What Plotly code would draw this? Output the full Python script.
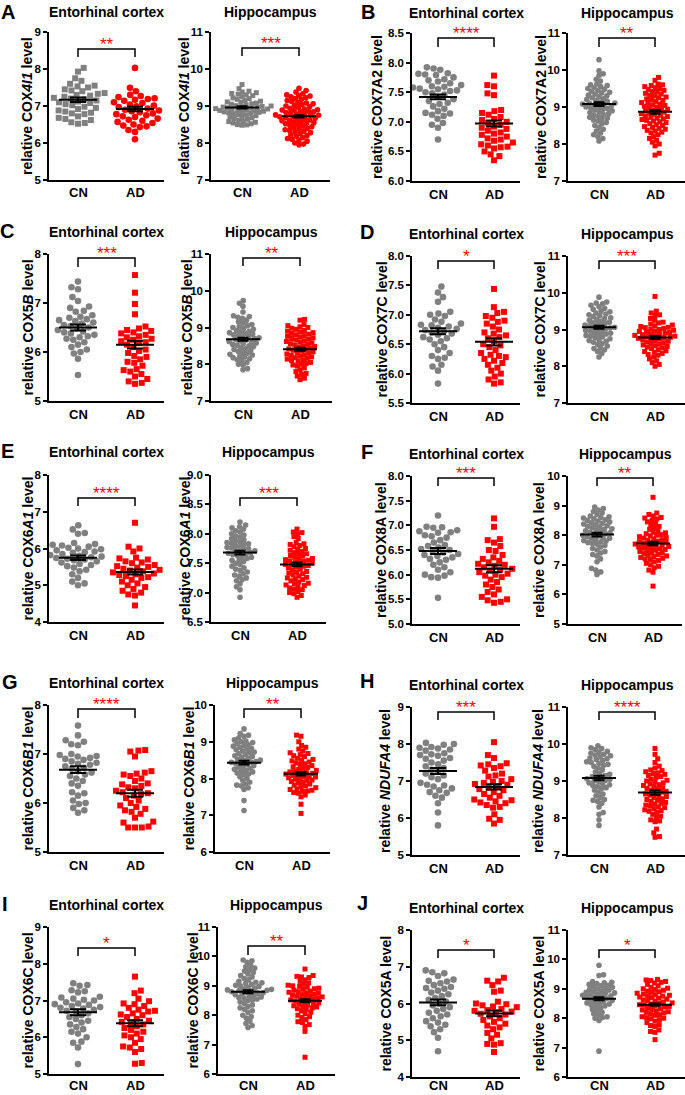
import plotly.graph_objects as go

W, H = 685, 1095
FONT = "Liberation Sans, Arial, sans-serif"
GREY = "#808080"
RED = "#ff0000"

# ---------------- data ----------------
panel_letters = ["A", "B", "C", "D", "E", "F", "G", "H", "I", "J"]
gene_labels = ["COX<i>4I1</i>", "COX7A2", "COX5<i>B</i>", "COX7C", "COX6<i>A1</i>",
               "COX8A", "COX6<i>B1</i>", "<i>NDUFA4</i>", "COX6C", "COX5A"]
region_titles = ["Entorhinal cortex", "Hippocampus"]
group_labels = ["CN", "AD"]
stars_ent = ["**", "****", "***", "*", "****", "***", "****", "***", "*", "*"]
stars_hip = ["***", "**", "**", "***", "***", "**", "**", "****", "**", "*"]
cn_is_square = [True, False, False, False, False, False, False, False, False, False]

mean_ent_cn = [7.17, 7.42, 6.50, 6.72, 5.75, 6.48, 6.68, 7.27, 6.68, 6.03]
mean_ent_ad = [6.92, 6.97, 6.15, 6.54, 5.36, 6.12, 6.20, 6.84, 6.38, 5.73]
sem_ent_cn = [0.06, 0.04, 0.06, 0.05, 0.06, 0.06, 0.07, 0.08, 0.08, 0.08]
sem_ent_ad = [0.06, 0.05, 0.08, 0.06, 0.07, 0.07, 0.07, 0.07, 0.08, 0.08]
mean_hip_cn = [8.96, 9.08, 8.68, 9.06, 7.68, 8.02, 8.43, 9.08, 8.80, 8.66]
mean_hip_ad = [8.72, 8.87, 8.41, 8.78, 7.48, 7.72, 8.13, 8.69, 8.49, 8.46]
sem_hip_cn = [0.03, 0.05, 0.04, 0.04, 0.03, 0.06, 0.05, 0.06, 0.05, 0.05]
sem_hip_ad = [0.03, 0.05, 0.04, 0.04, 0.03, 0.06, 0.05, 0.06, 0.05, 0.04]

A_ent_cn = [8.03, 7.93, 7.75, 7.68, 7.6, 7.55, 7.53, 7.5, 7.45, 7.42, 7.4, 7.35, 7.33, 7.3, 7.28, 7.25, 7.22, 7.2, 7.18, 7.15,
            7.12, 7.1, 7.08, 7.05, 7.02, 6.98, 6.95, 6.92, 6.88, 6.85, 6.82, 6.8, 6.78, 6.72, 6.68, 6.65, 6.62, 6.56, 6.54, 6.52]
A_ent_ad = [8.03, 7.49, 7.40, 7.30, 7.27, 7.24, 7.21, 7.19, 7.17, 7.14, 7.10, 7.08, 7.04, 7.01, 6.99, 6.97, 6.93, 6.90, 6.88,
            6.86, 6.83, 6.80, 6.78, 6.75, 6.72, 6.70, 6.66, 6.63, 6.60, 6.57, 6.54, 6.50, 6.47, 6.45, 6.43, 6.35, 6.30, 6.10]
A_hip_cn = [9.58, 9.47, 9.40, 9.38, 9.36, 9.34, 9.32, 9.30, 9.28, 9.25, 9.22, 9.20, 9.18, 9.15, 9.13, 9.11, 9.10, 9.08, 9.06,
            9.05, 9.03, 9.01, 9.00, 8.99, 8.98, 8.97, 8.96, 8.95, 8.94, 8.93, 8.92, 8.91, 8.90, 8.89, 8.88, 8.87, 8.86, 8.85,
            8.84, 8.83, 8.82, 8.80, 8.79, 8.77, 8.76, 8.74, 8.72, 8.70, 8.68, 8.66, 8.64, 8.62, 8.60, 8.58, 8.56, 8.54, 8.52,
            8.50, 8.48, 8.49]
A_hip_ad = [9.48, 9.42, 9.38, 9.33, 9.30, 9.28, 9.27, 9.25, 9.22, 9.20, 9.18, 9.15, 9.12, 9.10, 9.08, 9.06, 9.04, 9.02, 9.00,
            8.98, 8.96, 8.94, 8.92, 8.90, 8.89, 8.88, 8.86, 8.85, 8.84, 8.82, 8.80, 8.79, 8.78, 8.76, 8.75, 8.74, 8.72, 8.71,
            8.70, 8.68, 8.67, 8.66, 8.64, 8.62, 8.61, 8.60, 8.58, 8.56, 8.55, 8.53, 8.52, 8.50, 8.48, 8.46, 8.44, 8.42, 8.40,
            8.38, 8.36, 8.34, 8.32, 8.30, 8.28, 8.25, 8.22, 8.20, 8.18, 8.15, 8.12, 8.10, 8.08, 8.05, 8.00, 7.97, 7.95]

B_ent_cn = [7.92, 7.90, 7.88, 7.82, 7.81, 7.80, 7.79, 7.75, 7.72, 7.70, 7.68, 7.65, 7.62, 7.60, 7.59, 7.58, 7.56, 7.55, 7.53,
            7.52, 7.50, 7.48, 7.46, 7.42, 7.38, 7.35, 7.32, 7.30, 7.26, 7.22, 7.18, 7.15, 7.14, 7.12, 7.10, 7.05, 6.98, 6.95,
            6.90, 6.70]
B_ent_ad = [7.78, 7.62, 7.60, 7.48, 7.45, 7.20, 7.18, 7.15, 7.12, 7.08, 7.05, 7.03, 7.00, 6.98, 6.95, 6.92, 6.90, 6.88, 6.85,
            6.82, 6.80, 6.78, 6.75, 6.72, 6.70, 6.68, 6.65, 6.62, 6.60, 6.58, 6.57, 6.55, 6.50, 6.45, 6.42, 6.35]
B_hip_cn = [10.28, 9.98, 9.90, 9.85, 9.75, 9.70, 9.62, 9.60, 9.58, 9.55, 9.52, 9.50, 9.48, 9.45, 9.42, 9.40, 9.38, 9.35, 9.32,
            9.30, 9.28, 9.25, 9.22, 9.20, 9.18, 9.15, 9.13, 9.11, 9.10, 9.08, 9.06, 9.05, 9.03, 9.01, 9.00, 8.98, 8.96, 8.94,
            8.92, 8.90, 8.88, 8.85, 8.82, 8.80, 8.78, 8.75, 8.72, 8.70, 8.68, 8.65, 8.62, 8.58, 8.55, 8.50, 8.45, 8.40, 8.35,
            8.30, 8.25, 8.20, 8.15, 8.08]
B_hip_ad = [9.80, 9.72, 9.62, 9.60, 9.58, 9.55, 9.52, 9.50, 9.47, 9.45, 9.42, 9.40, 9.37, 9.35, 9.32, 9.30, 9.27, 9.25, 9.22,
            9.20, 9.18, 9.15, 9.12, 9.10, 9.08, 9.06, 9.04, 9.02, 9.00, 8.98, 8.96, 8.94, 8.92, 8.90, 8.88, 8.86, 8.84, 8.82,
            8.80, 8.78, 8.76, 8.74, 8.72, 8.70, 8.68, 8.66, 8.64, 8.62, 8.60, 8.58, 8.55, 8.52, 8.50, 8.47, 8.45, 8.42, 8.40,
            8.37, 8.35, 8.32, 8.30, 8.25, 8.20, 8.15, 8.10, 8.05, 8.00, 7.95, 7.75, 7.70]

C_ent_cn = [7.44, 7.32, 7.28, 7.12, 7.04, 6.93, 6.90, 6.84, 6.82, 6.75, 6.72, 6.70, 6.67, 6.65, 6.63, 6.60, 6.58, 6.55, 6.53,
            6.50, 6.48, 6.45, 6.42, 6.40, 6.38, 6.35, 6.32, 6.30, 6.27, 6.25, 6.20, 6.15, 6.10, 6.05, 6.00, 5.97, 5.86, 5.53]
C_ent_ad = [7.57, 7.21, 6.98, 6.77, 6.52, 6.48, 6.45, 6.43, 6.40, 6.38, 6.35, 6.32, 6.30, 6.27, 6.25, 6.22, 6.20, 6.18, 6.15,
            6.10, 6.05, 6.02, 5.98, 5.92, 5.90, 5.85, 5.80, 5.78, 5.72, 5.65, 5.63, 5.60, 5.55, 5.50, 5.45, 5.40, 5.37, 5.35]
C_hip_cn = [9.73, 9.66, 9.58, 9.42, 9.32, 9.30, 9.28, 9.25, 9.20, 9.15, 9.12, 9.08, 9.05, 9.02, 9.00, 8.98, 8.95, 8.92, 8.90,
            8.88, 8.86, 8.84, 8.82, 8.80, 8.78, 8.76, 8.74, 8.72, 8.70, 8.68, 8.66, 8.64, 8.62, 8.60, 8.58, 8.56, 8.54, 8.52,
            8.50, 8.48, 8.45, 8.42, 8.40, 8.38, 8.35, 8.32, 8.30, 8.27, 8.25, 8.22, 8.20, 8.18, 8.15, 8.12, 8.10, 8.05, 8.00,
            7.98, 7.88, 7.85]
C_hip_ad = [9.22, 9.20, 9.08, 9.05, 9.02, 9.00, 8.98, 8.95, 8.92, 8.90, 8.88, 8.86, 8.84, 8.82, 8.80, 8.78, 8.76, 8.74, 8.72,
            8.70, 8.68, 8.66, 8.64, 8.62, 8.60, 8.58, 8.56, 8.54, 8.52, 8.50, 8.48, 8.46, 8.44, 8.42, 8.40, 8.38, 8.36, 8.34,
            8.32, 8.30, 8.28, 8.26, 8.24, 8.22, 8.20, 8.18, 8.16, 8.14, 8.12, 8.10, 8.08, 8.05, 8.02, 8.00, 7.98, 7.95, 7.90,
            7.85, 7.80, 7.75, 7.72, 7.68, 7.62, 7.58]

D_ent_cn = [7.48, 7.38, 7.30, 7.22, 7.05, 7.02, 7.00, 6.98, 6.92, 6.88, 6.85, 6.83, 6.82, 6.80, 6.78, 6.76, 6.74, 6.72, 6.70,
            6.68, 6.66, 6.62, 6.60, 6.58, 6.55, 6.50, 6.45, 6.40, 6.35, 6.30, 6.27, 6.25, 6.15, 6.12, 6.05, 5.83]
D_ent_ad = [7.44, 7.13, 7.05, 7.03, 6.98, 6.95, 6.90, 6.88, 6.85, 6.80, 6.75, 6.70, 6.68, 6.65, 6.62, 6.60, 6.55, 6.50, 6.48,
            6.45, 6.40, 6.35, 6.32, 6.30, 6.28, 6.25, 6.22, 6.18, 6.15, 6.10, 6.05, 6.00, 5.95, 5.90, 5.85, 5.83]
D_hip_cn = [9.88, 9.75, 9.72, 9.70, 9.66, 9.62, 9.58, 9.55, 9.50, 9.48, 9.45, 9.42, 9.40, 9.38, 9.35, 9.32, 9.30, 9.28, 9.25,
            9.22, 9.20, 9.18, 9.16, 9.14, 9.12, 9.10, 9.08, 9.06, 9.05, 9.04, 9.02, 9.00, 8.98, 8.96, 8.94, 8.92, 8.90, 8.88,
            8.86, 8.84, 8.82, 8.80, 8.78, 8.75, 8.72, 8.70, 8.68, 8.65, 8.62, 8.60, 8.55, 8.50, 8.48, 8.45, 8.40, 8.35, 8.25]
D_hip_ad = [9.90, 9.50, 9.45, 9.40, 9.38, 9.30, 9.25, 9.20, 9.18, 9.15, 9.12, 9.10, 9.08, 9.06, 9.05, 9.03, 9.01, 9.00, 8.98,
            8.96, 8.95, 8.93, 8.92, 8.90, 8.88, 8.87, 8.86, 8.84, 8.83, 8.82, 8.80, 8.79, 8.78, 8.76, 8.75, 8.74, 8.72, 8.70,
            8.68, 8.66, 8.64, 8.62, 8.60, 8.58, 8.56, 8.54, 8.52, 8.50, 8.48, 8.45, 8.42, 8.40, 8.38, 8.35, 8.32, 8.30, 8.25,
            8.20, 8.15, 8.10, 8.05, 8.00]

E_ent_cn = [6.63, 6.52, 6.42, 6.40, 6.15, 6.12, 6.10, 6.08, 6.05, 6.02, 6.00, 5.98, 5.95, 5.92, 5.90, 5.88, 5.85, 5.82, 5.80,
            5.78, 5.76, 5.74, 5.72, 5.70, 5.68, 5.65, 5.62, 5.58, 5.55, 5.52, 5.48, 5.42, 5.38, 5.30, 5.20, 5.10, 5.05, 5.00]
E_ent_ad = [6.70, 6.05, 6.00, 5.92, 5.75, 5.73, 5.70, 5.65, 5.62, 5.60, 5.55, 5.52, 5.50, 5.48, 5.45, 5.42, 5.40, 5.38, 5.35,
            5.32, 5.30, 5.28, 5.25, 5.22, 5.20, 5.15, 5.10, 5.05, 5.00, 4.95, 4.90, 4.85, 4.80, 4.75, 4.72, 4.45]
E_hip_cn = [8.20, 8.15, 8.12, 8.10, 8.08, 8.05, 8.03, 8.00, 7.98, 7.96, 7.94, 7.92, 7.90, 7.88, 7.86, 7.85, 7.84, 7.83, 7.82,
            7.80, 7.78, 7.77, 7.76, 7.75, 7.74, 7.72, 7.71, 7.70, 7.68, 7.67, 7.66, 7.65, 7.63, 7.62, 7.60, 7.58, 7.56, 7.55,
            7.53, 7.50, 7.48, 7.45, 7.42, 7.40, 7.38, 7.35, 7.32, 7.30, 7.28, 7.25, 7.22, 7.20, 7.15, 7.10, 7.05, 6.92]
E_hip_ad = [8.08, 8.03, 8.02, 8.00, 7.95, 7.92, 7.85, 7.83, 7.82, 7.80, 7.78, 7.75, 7.73, 7.72, 7.70, 7.68, 7.66, 7.65, 7.63,
            7.62, 7.60, 7.58, 7.57, 7.56, 7.55, 7.54, 7.53, 7.52, 7.50, 7.49, 7.48, 7.47, 7.46, 7.45, 7.44, 7.42, 7.40, 7.38,
            7.36, 7.35, 7.33, 7.32, 7.30, 7.28, 7.26, 7.25, 7.23, 7.22, 7.20, 7.18, 7.16, 7.15, 7.13, 7.12, 7.10, 7.08, 7.06,
            7.05, 7.02, 7.00, 6.98, 6.95, 6.92]

F_ent_cn = [7.20, 6.97, 6.96, 6.95, 6.90, 6.88, 6.86, 6.85, 6.80, 6.78, 6.75, 6.70, 6.65, 6.60, 6.58, 6.55, 6.52, 6.50, 6.48,
            6.45, 6.42, 6.40, 6.38, 6.35, 6.32, 6.30, 6.25, 6.20, 6.15, 6.10, 6.05, 6.00, 5.98, 5.95, 5.94, 5.53]
F_ent_ad = [7.14, 6.97, 6.72, 6.70, 6.65, 6.58, 6.50, 6.48, 6.40, 6.35, 6.32, 6.28, 6.25, 6.22, 6.20, 6.18, 6.15, 6.12, 6.10,
            6.08, 6.05, 6.02, 6.00, 5.98, 5.95, 5.90, 5.85, 5.80, 5.75, 5.70, 5.65, 5.60, 5.55, 5.50, 5.48, 5.45, 5.43]
F_hip_cn = [8.95, 8.90, 8.85, 8.80, 8.75, 8.70, 8.65, 8.62, 8.60, 8.58, 8.55, 8.52, 8.50, 8.48, 8.45, 8.42, 8.40, 8.38, 8.35,
            8.32, 8.30, 8.28, 8.25, 8.22, 8.20, 8.18, 8.15, 8.12, 8.10, 8.08, 8.05, 8.02, 8.00, 7.98, 7.95, 7.92, 7.90, 7.88,
            7.85, 7.82, 7.80, 7.78, 7.75, 7.72, 7.70, 7.65, 7.60, 7.55, 7.50, 7.45, 7.40, 7.35, 7.30, 7.20, 7.10, 6.88, 6.82,
            6.76, 6.67]
F_hip_ad = [9.28, 8.75, 8.70, 8.65, 8.60, 8.58, 8.55, 8.50, 8.45, 8.40, 8.35, 8.30, 8.25, 8.20, 8.15, 8.10, 8.08, 8.05, 8.02,
            8.00, 7.98, 7.95, 7.92, 7.90, 7.88, 7.85, 7.82, 7.80, 7.78, 7.76, 7.74, 7.72, 7.70, 7.68, 7.66, 7.64, 7.62, 7.60,
            7.58, 7.56, 7.54, 7.52, 7.50, 7.48, 7.45, 7.42, 7.40, 7.38, 7.35, 7.32, 7.30, 7.28, 7.25, 7.22, 7.20, 7.18, 7.15,
            7.10, 7.05, 7.00, 6.95, 6.90, 6.82, 6.75, 6.28]

G_ent_cn = [7.58, 7.38, 7.28, 7.25, 7.20, 7.18, 7.00, 6.98, 6.96, 6.95, 6.92, 6.90, 6.88, 6.85, 6.82, 6.80, 6.78, 6.75, 6.72,
            6.70, 6.65, 6.62, 6.58, 6.55, 6.50, 6.45, 6.40, 6.35, 6.22, 6.20, 6.15, 6.05, 6.00, 5.98, 5.90, 5.85, 5.80]
G_ent_ad = [7.08, 7.07, 7.05, 6.95, 6.65, 6.62, 6.60, 6.58, 6.55, 6.50, 6.45, 6.40, 6.38, 6.35, 6.32, 6.30, 6.25, 6.22, 6.20,
            6.18, 6.15, 6.10, 6.05, 6.00, 5.95, 5.92, 5.88, 5.85, 5.82, 5.78, 5.70, 5.62, 5.60, 5.52, 5.50, 5.50, 5.50]
G_hip_cn = [9.35, 9.22, 9.18, 9.15, 9.10, 9.05, 9.02, 9.00, 8.98, 8.95, 8.92, 8.90, 8.88, 8.85, 8.82, 8.80, 8.78, 8.75, 8.72,
            8.70, 8.68, 8.65, 8.62, 8.60, 8.58, 8.55, 8.52, 8.50, 8.48, 8.46, 8.45, 8.44, 8.42, 8.40, 8.38, 8.35, 8.32, 8.30,
            8.28, 8.25, 8.22, 8.20, 8.18, 8.15, 8.12, 8.10, 8.05, 8.00, 7.95, 7.90, 7.85, 7.82, 7.80, 7.75, 7.70, 7.40, 7.13]
G_hip_ad = [9.18, 9.15, 9.00, 8.90, 8.85, 8.80, 8.75, 8.70, 8.68, 8.65, 8.62, 8.60, 8.55, 8.52, 8.50, 8.48, 8.45, 8.42, 8.40,
            8.38, 8.35, 8.32, 8.30, 8.28, 8.25, 8.22, 8.20, 8.18, 8.16, 8.15, 8.14, 8.12, 8.10, 8.08, 8.06, 8.05, 8.04, 8.02,
            8.00, 7.98, 7.96, 7.95, 7.92, 7.90, 7.88, 7.85, 7.82, 7.80, 7.78, 7.75, 7.72, 7.70, 7.68, 7.66, 7.65, 7.62, 7.60,
            7.55, 7.50, 7.30, 7.05]

H_ent_cn = [8.03, 8.00, 7.98, 7.92, 7.90, 7.88, 7.85, 7.82, 7.75, 7.72, 7.70, 7.68, 7.62, 7.60, 7.55, 7.50, 7.45, 7.40, 7.35,
            7.30, 7.25, 7.20, 7.15, 7.10, 7.05, 6.95, 6.90, 6.88, 6.85, 6.80, 6.75, 6.70, 6.68, 6.60, 6.55, 6.40, 6.15, 5.80]
H_ent_ad = [8.05, 7.70, 7.62, 7.48, 7.45, 7.42, 7.40, 7.35, 7.28, 7.20, 7.15, 7.12, 7.05, 7.00, 6.98, 6.95, 6.92, 6.90, 6.85,
            6.82, 6.78, 6.75, 6.70, 6.65, 6.60, 6.55, 6.50, 6.48, 6.45, 6.42, 6.40, 6.35, 6.30, 6.28, 6.10, 5.98, 5.95, 5.85]
H_hip_cn = [9.95, 9.90, 9.88, 9.85, 9.80, 9.78, 9.75, 9.72, 9.70, 9.68, 9.65, 9.62, 9.60, 9.58, 9.55, 9.52, 9.50, 9.48, 9.45,
            9.42, 9.40, 9.35, 9.30, 9.25, 9.20, 9.18, 9.15, 9.12, 9.10, 9.08, 9.06, 9.05, 9.02, 9.00, 8.98, 8.95, 8.92, 8.90,
            8.88, 8.85, 8.82, 8.80, 8.75, 8.70, 8.65, 8.60, 8.55, 8.50, 8.48, 8.45, 8.40, 8.30, 8.15, 8.10, 7.95, 7.80]
H_hip_ad = [9.88, 9.72, 9.60, 9.50, 9.40, 9.35, 9.30, 9.28, 9.25, 9.22, 9.20, 9.18, 9.15, 9.12, 9.10, 9.05, 9.02, 9.00, 8.98,
            8.95, 8.92, 8.90, 8.88, 8.85, 8.82, 8.80, 8.78, 8.75, 8.72, 8.70, 8.68, 8.65, 8.62, 8.60, 8.58, 8.55, 8.52, 8.50,
            8.48, 8.45, 8.42, 8.40, 8.38, 8.35, 8.32, 8.30, 8.28, 8.25, 8.22, 8.20, 8.18, 8.15, 8.10, 8.05, 8.02, 7.95, 7.92,
            7.90, 7.70, 7.60, 7.50, 7.48]

I_ent_cn = [7.47, 7.42, 7.40, 7.28, 7.25, 7.22, 7.10, 7.08, 7.05, 7.02, 7.00, 6.95, 6.92, 6.90, 6.88, 6.85, 6.82, 6.80, 6.78,
            6.75, 6.72, 6.70, 6.65, 6.60, 6.55, 6.50, 6.45, 6.40, 6.35, 6.28, 6.22, 6.15, 6.10, 6.00, 5.88, 5.85, 5.72, 5.27]
I_ent_ad = [7.65, 7.27, 7.20, 7.05, 6.98, 6.92, 6.90, 6.85, 6.80, 6.75, 6.72, 6.70, 6.65, 6.62, 6.60, 6.55, 6.50, 6.45, 6.42,
            6.40, 6.35, 6.30, 6.25, 6.20, 6.15, 6.10, 6.05, 6.00, 5.95, 5.85, 5.75, 5.72, 5.68, 5.60, 5.30, 5.28]
I_hip_cn = [9.88, 9.85, 9.80, 9.70, 9.65, 9.60, 9.55, 9.50, 9.45, 9.40, 9.35, 9.30, 9.25, 9.20, 9.15, 9.12, 9.10, 9.08, 9.05,
            9.02, 9.00, 8.98, 8.95, 8.92, 8.90, 8.88, 8.86, 8.85, 8.84, 8.82, 8.80, 8.78, 8.76, 8.75, 8.72, 8.70, 8.68, 8.65,
            8.62, 8.60, 8.58, 8.55, 8.52, 8.50, 8.45, 8.40, 8.35, 8.30, 8.25, 8.20, 8.15, 8.10, 8.00, 7.95, 7.90, 7.80, 7.72,
            7.65, 7.58]
I_hip_ad = [9.57, 9.35, 9.32, 9.30, 9.28, 9.20, 9.15, 9.10, 9.05, 9.02, 9.00, 8.98, 8.95, 8.92, 8.90, 8.88, 8.85, 8.82, 8.80,
            8.78, 8.76, 8.75, 8.72, 8.70, 8.68, 8.66, 8.65, 8.62, 8.60, 8.58, 8.56, 8.55, 8.52, 8.50, 8.48, 8.45, 8.42, 8.40,
            8.38, 8.35, 8.32, 8.30, 8.28, 8.25, 8.22, 8.20, 8.15, 8.10, 8.05, 8.00, 7.95, 7.92, 7.85, 7.78, 7.75, 7.68, 7.62,
            7.45, 6.57]

J_ent_cn = [6.90, 6.85, 6.82, 6.75, 6.65, 6.62, 6.60, 6.55, 6.50, 6.45, 6.42, 6.40, 6.35, 6.30, 6.25, 6.20, 6.15, 6.10, 6.05,
            6.00, 5.95, 5.90, 5.85, 5.80, 5.75, 5.70, 5.65, 5.60, 5.52, 5.48, 5.42, 5.38, 5.30, 5.22, 5.07, 4.70]
J_ent_ad = [6.70, 6.62, 6.60, 6.50, 6.35, 6.32, 6.05, 6.00, 5.98, 5.95, 5.92, 5.90, 5.85, 5.82, 5.80, 5.78, 5.75, 5.72, 5.70,
            5.65, 5.60, 5.55, 5.50, 5.45, 5.40, 5.35, 5.30, 5.20, 5.15, 5.05, 4.92, 4.90, 4.88, 4.68]
J_hip_cn = [9.80, 9.48, 9.45, 9.25, 9.22, 9.20, 9.18, 9.15, 9.12, 9.10, 9.08, 9.05, 9.02, 9.00, 8.98, 8.95, 8.92, 8.90, 8.88,
            8.86, 8.85, 8.82, 8.80, 8.78, 8.76, 8.75, 8.72, 8.70, 8.68, 8.65, 8.62, 8.60, 8.58, 8.55, 8.52, 8.50, 8.48, 8.45,
            8.42, 8.40, 8.35, 8.30, 8.25, 8.20, 8.15, 8.10, 8.05, 8.02, 8.00, 7.92, 6.88]
J_hip_ad = [9.32, 9.30, 9.28, 9.25, 9.22, 9.20, 9.15, 9.10, 9.05, 9.02, 9.00, 8.98, 8.95, 8.92, 8.90, 8.88, 8.85, 8.82, 8.80,
            8.78, 8.76, 8.75, 8.72, 8.70, 8.68, 8.65, 8.62, 8.60, 8.58, 8.55, 8.52, 8.50, 8.48, 8.46, 8.45, 8.42, 8.40, 8.38,
            8.35, 8.32, 8.30, 8.28, 8.25, 8.22, 8.20, 8.18, 8.15, 8.12, 8.10, 8.05, 8.02, 8.00, 7.98, 7.95, 7.90, 7.85, 7.78,
            7.75, 7.72, 7.60, 7.55, 7.52, 7.27]

ent_cn = [A_ent_cn, B_ent_cn, C_ent_cn, D_ent_cn, E_ent_cn, F_ent_cn, G_ent_cn, H_ent_cn, I_ent_cn, J_ent_cn]
ent_ad = [A_ent_ad, B_ent_ad, C_ent_ad, D_ent_ad, E_ent_ad, F_ent_ad, G_ent_ad, H_ent_ad, I_ent_ad, J_ent_ad]
hip_cn = [A_hip_cn, B_hip_cn, C_hip_cn, D_hip_cn, E_hip_cn, F_hip_cn, G_hip_cn, H_hip_cn, I_hip_cn, J_hip_cn]
hip_ad = [A_hip_ad, B_hip_ad, C_hip_ad, D_hip_ad, E_hip_ad, F_hip_ad, G_hip_ad, H_hip_ad, I_hip_ad, J_hip_ad]

y_ranges = [((5, 9), (7, 11)), ((6, 8.5), (7, 11)), ((5, 8), (7, 11)), ((5.5, 8), (7, 11)), ((4, 8), (6.5, 9)),
            ((5, 8), (5, 10)), ((5, 8), (6, 10)), ((5, 9), (7, 11)), ((5, 9), (6, 11)), ((4, 8), (6, 11))]
y_dticks = [(1, 1), (0.5, 1), (1, 1), (0.5, 1), (1, 0.5), (0.5, 1), (1, 1), (1, 1), (1, 1), (1, 1)]

# ---------------- layout (pixel geometry) ----------------
AXIS_PX = [(49, 211), (412, 568), (49, 211), (412, 568), (49, 211), (412, 568), (49, 215), (412, 568), (49, 218), (412, 568)]
CN_PX = [(78, 242), (438, 599), (78, 243), (438, 599), (78, 240), (438, 597), (78, 244), (438, 599), (78, 248), (438, 599)]
AD_PX = [(135, 299), (494, 655), (135, 300), (494, 655), (135, 297), (494, 653), (135, 301), (494, 655), (135, 305), (494, 655)]
TOP_PX = [32, 33, 254, 256, 475, 476, 705, 707, 927, 930]
BOT_PX = [180, 181, 401, 403, 622, 624, 852, 855, 1074, 1077]
BRACKET_PX = [((49, 57), (48, 56)), ((38, 47), (38, 47)), ((258, 267), (258, 266)), ((261, 269), (261, 269)),
              ((498, 506), (498, 506)), ((478, 486), (478, 486)), ((709, 718), (709, 718)), ((712, 720), (712, 720)),
              ((948, 956), (946, 955)), ((950, 958), (950, 958))]
TITLE_Y = [12, 13, 232, 234, 452, 454, 683, 685, 905, 908]
LETTER_XY = [(8, 12), (368, 12), (7, 231), (367, 232), (7, 451), (367, 452), (10, 682), (367, 681), (5, 904), (362, 903)]
YTITLE_X = [(27, 184), (377, 541), (27, 186), (381, 539), (27, 184), (381, 539), (27, 188), (385, 538), (27, 192), (385, 538)]
XLABEL_GAP = 13            # px from x-axis line to centre of group label
XLABEL_MAX_Y = 1085        # keep the lowest labels inside the page

MARK = (6.8, 4.6)          # swarm spacing in px (entorhinal, hippocampus)
MSIZE = (6.6, 5.6)         # marker size in px
MEAN_HALF = (19, 17)       # px
CAP_HALF = (8, 5.5)        # px


def swarm(vals, ppu, d):
    """Beeswarm x-offsets (px) for values, given px per y unit and spacing d."""
    order = sorted(range(len(vals)), key=lambda i: vals[i])
    placed = []
    xs = [0.0] * len(vals)
    flip = 1
    for i in order:
        y = vals[i] * ppu
        forb = []
        for yj, xj in placed:
            dy = abs(y - yj)
            if dy < d:
                w = (d * d - dy * dy) ** 0.5
                forb.append((xj - w, xj + w))
        cands = [0.0] + [a for a, b in forb] + [b for a, b in forb]
        cands.sort(key=lambda c: (round(abs(c), 6), flip * c))
        for c in cands:
            if all(not (a + 1e-6 < c < b - 1e-6) for a, b in forb):
                xs[i] = c
                break
        flip = -flip
        placed.append((y, xs[i]))
    return xs


fig = go.Figure()
lay = {}
shapes = []
ann = []
axfont = dict(family=FONT, size=11.5, color="black", weight="bold")

for p in range(10):
    for side in range(2):
        k = p * 2 + side + 1
        xs_name = "xaxis" if k == 1 else f"xaxis{k}"
        ys_name = "yaxis" if k == 1 else f"yaxis{k}"
        xr = "x" if k == 1 else f"x{k}"
        yr = "y" if k == 1 else f"y{k}"
        axp = AXIS_PX[p][side]
        cn = CN_PX[p][side]
        ad = AD_PX[p][side]
        s = ad - cn
        right_full = ad + (cn - axp)
        right = min(right_full, W)
        top, bot = TOP_PX[p], BOT_PX[p]
        ymin, ymax = y_ranges[p][side]
        ppu = (bot - top) / (ymax - ymin)
        dt = y_dticks[p][side]

        lay[xs_name] = dict(domain=[axp / W, right / W], range=[-(cn - axp) / s, (right - cn) / s],
                            anchor=yr, showticklabels=False, showline=True,
                            linecolor="black", linewidth=1.5, ticks="",
                            showgrid=False, zeroline=False, fixedrange=True, automargin=False)
        lay[ys_name] = dict(domain=[1 - bot / H, 1 - top / H], range=[ymin, ymax], anchor=xr,
                            tick0=ymin, dtick=dt, tickformat=".1f" if dt < 1 else ".0f",
                            ticks="outside", ticklen=4, tickwidth=1.5, tickcolor="black",
                            showline=True, linecolor="black", linewidth=1.5, showgrid=False,
                            zeroline=False, fixedrange=True, automargin=False, tickfont=axfont)

        # group labels under the x axis
        ly_lab = min(bot + XLABEL_GAP, XLABEL_MAX_Y)
        for gi, lab in enumerate(group_labels):
            ann.append(dict(x=gi, y=1 - ly_lab / H, xref=xr, yref="paper", text=lab, showarrow=False,
                            xanchor="center", yanchor="middle",
                            font=dict(family=FONT, size=13, color="black", weight="bold")))

        if side == 0:
            groups = [(ent_cn[p], mean_ent_cn[p], sem_ent_cn[p]), (ent_ad[p], mean_ent_ad[p], sem_ent_ad[p])]
            star = stars_ent[p]
        else:
            groups = [(hip_cn[p], mean_hip_cn[p], sem_hip_cn[p]), (hip_ad[p], mean_hip_ad[p], sem_hip_ad[p])]
            star = stars_hip[p]

        for gi, (vals, m, se) in enumerate(groups):
            offs = swarm(vals, ppu, MARK[side])
            if gi == 0:
                color = GREY
                sq = cn_is_square[p]
            else:
                color = RED
                sq = not cn_is_square[p]
            msz = MSIZE[side]
            fig.add_trace(go.Scatter(
                x=[gi + o / s for o in offs], y=vals, xaxis=xr, yaxis=yr, mode="markers",
                marker=dict(symbol="square" if sq else "circle", size=msz - 0.6 if sq else msz,
                            color=color, line=dict(width=0)),
                showlegend=False, hoverinfo="skip", cliponaxis=False))
        for gi, (vals, m, se) in enumerate(groups):
            hw = MEAN_HALF[side] / s
            fig.add_trace(go.Scatter(x=[gi - hw, gi + hw], y=[m, m], xaxis=xr, yaxis=yr, mode="lines",
                                     line=dict(color="black", width=2), showlegend=False, hoverinfo="skip"))
            fig.add_trace(go.Scatter(x=[gi], y=[m], xaxis=xr, yaxis=yr, mode="markers",
                                     marker=dict(size=1, opacity=0),
                                     error_y=dict(type="data", array=[se], color="black", thickness=2,
                                                  width=CAP_HALF[side]),
                                     showlegend=False, hoverinfo="skip"))

        # significance bracket
        bt, bl = BRACKET_PX[p][side]
        shapes.append(dict(type="path", xref=xr, yref="paper",
                           path=f"M 0,{1 - bl / H} L 0,{1 - bt / H} L 1,{1 - bt / H} L 1,{1 - bl / H}",
                           line=dict(color="black", width=1.5)))
        ann.append(dict(x=0.5, y=1 - bt / H, xref=xr, yref="paper", text=star, showarrow=False,
                        yanchor="bottom", yshift=-7, font=dict(family=FONT, size=17, color=RED)))
        # region title
        ann.append(dict(x=(axp + right_full) / 2 / W, y=1 - TITLE_Y[p] / H, xref="paper", yref="paper",
                        text=region_titles[side], showarrow=False, xanchor="center", yanchor="middle",
                        font=dict(family=FONT, size=14, color="black", weight="bold")))
        # y-axis title
        ann.append(dict(x=YTITLE_X[p][side] / W, y=1 - (top + bot) / 2 / H, xref="paper", yref="paper",
                        text=f"relative {gene_labels[p]} level", textangle=-90, showarrow=False,
                        xanchor="center", yanchor="middle",
                        font=dict(family=FONT, size=14, color="black", weight="bold")))

    lx, ly = LETTER_XY[p]
    ann.append(dict(x=lx / W, y=1 - ly / H, xref="paper", yref="paper", text=panel_letters[p],
                    showarrow=False, xanchor="center", yanchor="middle",
                    font=dict(family=FONT, size=20, color="black", weight="bold")))

fig.update_layout(width=W, height=H, margin=dict(l=0, r=0, t=0, b=0, autoexpand=False),
                  plot_bgcolor="white", paper_bgcolor="white", showlegend=False,
                  shapes=shapes, annotations=ann, **lay)
fig.write_html("out.html", config={"displayModeBar": False},
               post_script="document.body.style.margin='0px';document.body.style.overflow='hidden';")
